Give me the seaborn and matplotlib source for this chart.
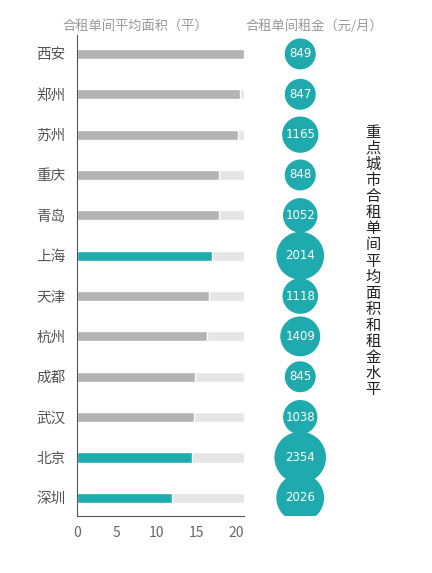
import seaborn as sns
import matplotlib.pyplot as plt
import pandas as pd

cities = ['西安', '郑州', '苏州', '重庆', '青岛', '上海',
          '天津', '杭州', '成都', '武汉', '北京', '深圳']
area = [21.0, 20.6, 20.25, 17.9, 17.9, 17.0,
        16.6, 16.35, 14.85, 14.7, 14.5, 12.0]
rent = [849, 847, 1165, 848, 1052, 2014,
        1118, 1409, 845, 1038, 2354, 2026]
highlight = ['上海', '北京', '深圳']
area_max = 21

teal = '#1fabae'
gray = '#b3b3b3'
light = '#e5e5e5'

df = pd.DataFrame({'city': cities, 'area': area, 'rent': rent})
df['bg'] = area_max

sns.set_style('white')
plt.rcParams['font.family'] = ['Noto Sans CJK SC', 'DejaVu Sans']

fig = plt.figure(figsize=(4.32, 5.73), dpi=100)
ax = fig.add_axes([0.178, 0.0995, 0.386, 0.8395])

sns.barplot(data=df, x='bg', y='city', color=light, width=0.25,
            orient='h', ax=ax, saturation=1)
bar_colors = [teal if c in highlight else gray for c in cities]
sns.barplot(data=df, x='area', y='city', hue='city', palette=bar_colors,
            width=0.25, orient='h', ax=ax, saturation=1, legend=False)

ax.set_xlim(0, 21)
ax.set_ylim(11.45, -0.47)
ax.set_xticks([0, 5, 10, 15, 20])
ax.set_xlabel('')
ax.set_ylabel('')
sns.despine(ax=ax)
ax.spines['left'].set_color('#555555')
ax.spines['bottom'].set_color('#555555')
ax.tick_params(axis='x', direction='in', length=4, colors='#555555',
               labelcolor='#666666', labelsize=10, pad=7)
ax.tick_params(axis='y', length=0, labelcolor='#555555', labelsize=10.5, pad=8)

# bubbles for rent
ax2 = fig.add_axes([0.59, 0.0995, 0.21, 0.8395])
k = (31 * 0.72) ** 2 / 849
sns.scatterplot(data=df, x=[0] * len(df), y=list(range(len(df))),
                size='rent', sizes=(k * min(rent), k * max(rent)),
                color=teal, edgecolor='none', alpha=1, legend=False, ax=ax2)
for i, v in enumerate(rent):
    ax2.text(0, i, str(v), ha='center', va='center', color='white',
             fontsize=8.5, family=['DejaVu Sans'])
ax2.set_xlim(-1, 1)
ax2.set_ylim(11.45, -0.47)
ax2.axis('off')

fig.text(0.313, 0.955, '合租单间平均面积（平）', ha='center', va='center',
         color='#999999', fontsize=9.5)
fig.text(0.727, 0.955, '合租单间租金（元/月）', ha='center', va='center',
         color='#999999', fontsize=9.5)

title = '重点城市合租单间平均面积和租金水平'
fig.text(0.863, 0.5445, '\n'.join(title), ha='center', va='center',
         color='#222222', fontsize=11, linespacing=0.93)

plt.savefig('out.png', dpi=100)
